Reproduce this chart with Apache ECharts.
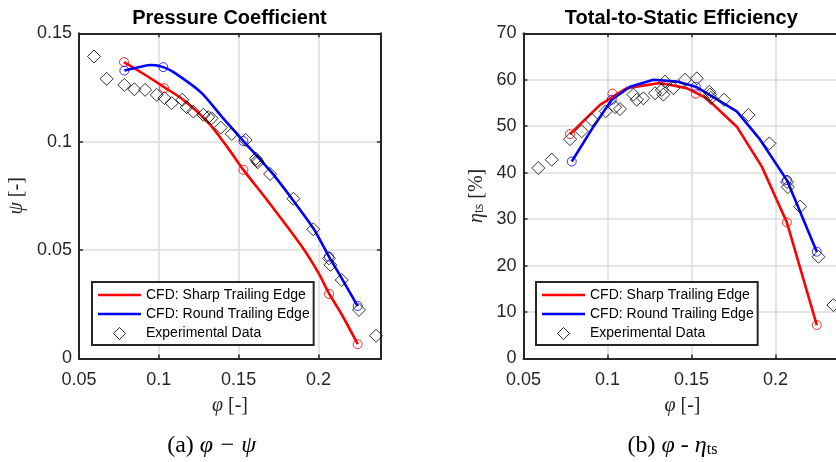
<!DOCTYPE html>
<html><head><meta charset="utf-8">
<script src="https://cdn.jsdelivr.net/npm/echarts@6/dist/echarts.min.js"></script>
<style>html,body{margin:0;padding:0;background:#fff}#c{width:836px;height:462px}</style>
</head><body><div id="c"></div>
<script>
// ---------- data ----------
const X_MIN = 0.05, X_MAX = 0.2392, X_STEP = 0.05;
const PSI_MIN = 0, PSI_MAX = 0.15, PSI_STEP = 0.05;
const ETA_MIN = 0, ETA_MAX = 70, ETA_STEP = 10;

const NAME_SHARP = 'CFD: Sharp Trailing Edge';
const NAME_ROUND = 'CFD: Round Trailing Edge';
const NAME_EXP = 'Experimental Data';

// (a) pressure coefficient psi
const psiSharpLinePhi = [0.0782, 0.0893, 0.1033, 0.1164, 0.1310, 0.1436, 0.1530, 0.1676, 0.1895, 0.2000, 0.2066, 0.2146, 0.2246];
const psiSharpLineVal = [0.1367, 0.1318, 0.1252, 0.1187, 0.1088, 0.0968, 0.0870, 0.0733, 0.0518, 0.0395, 0.0300, 0.0203, 0.0066];
const psiRoundLinePhi = [0.0784, 0.0955, 0.1028, 0.1102, 0.1269, 0.1394, 0.1530, 0.1728, 0.1968, 0.2066, 0.2146, 0.2246];
const psiRoundLineVal = [0.1328, 0.1354, 0.1344, 0.1316, 0.1224, 0.1116, 0.1003, 0.0839, 0.0601, 0.0470, 0.0370, 0.0242];
const psiSharpPtPhi = [0.0782, 0.1033, 0.1530, 0.2066, 0.2246];
const psiSharpPtVal = [0.1367, 0.1247, 0.0870, 0.0298, 0.0066];
const psiRoundPtPhi = [0.0784, 0.1028, 0.1530, 0.2066, 0.2246];
const psiRoundPtVal = [0.1328, 0.1344, 0.1003, 0.0470, 0.0242];
const psiExpPhi = [0.0594, 0.0673, 0.0784, 0.0847, 0.0914, 0.0987, 0.1035, 0.1081, 0.1147, 0.1175, 0.1216, 0.1279, 0.1310, 0.1331, 0.1388, 0.1457, 0.1544, 0.1608, 0.1615, 0.1620, 0.1697, 0.1843, 0.1968, 0.2066, 0.2075, 0.2146, 0.2254, 0.2361];
const psiExpVal = [0.1393, 0.1290, 0.1262, 0.1242, 0.1239, 0.1216, 0.1201, 0.1178, 0.1193, 0.1159, 0.1139, 0.1124, 0.1113, 0.1108, 0.1065, 0.1036, 0.1008, 0.0922, 0.0912, 0.0905, 0.0851, 0.0737, 0.0596, 0.0462, 0.0432, 0.0362, 0.0224, 0.0105];

// (b) total-to-static efficiency eta_ts [%]
const etaSharpLinePhi = [0.0777, 0.0955, 0.1114, 0.1313, 0.1471, 0.1590, 0.1769, 0.1918, 0.2007, 0.2067, 0.2245];
const etaSharpLineVal = [48.3, 54.6, 58.2, 59.3, 58.2, 56.0, 49.9, 41.3, 34.1, 29.3, 7.2];
const etaRoundLinePhi = [0.0787, 0.0916, 0.1025, 0.1134, 0.1273, 0.1412, 0.1525, 0.1590, 0.1769, 0.1908, 0.2067, 0.2245];
const etaRoundLineVal = [42.4, 49.9, 55.7, 58.5, 60.0, 59.6, 58.5, 57.1, 53.2, 47.1, 38.4, 23.0];
const etaSharpPtPhi = [0.0777, 0.1029, 0.1525, 0.2067, 0.2245];
const etaSharpPtVal = [48.3, 57.0, 57.0, 29.3, 7.2];
const etaRoundPtPhi = [0.0787, 0.1025, 0.1525, 0.2067, 0.2245];
const etaRoundPtVal = [42.4, 55.7, 58.5, 38.4, 23.0];
const etaExpPhi = [0.0588, 0.0668, 0.0777, 0.0846, 0.0906, 0.0989, 0.1045, 0.1074, 0.1154, 0.1174, 0.1213, 0.1283, 0.1323, 0.1332, 0.1342, 0.1392, 0.1461, 0.1531, 0.1605, 0.1610, 0.1615, 0.1693, 0.1838, 0.1963, 0.2068, 0.2073, 0.2146, 0.2255, 0.2344];
const etaExpVal = [41.0, 42.8, 47.2, 48.9, 51.4, 53.2, 54.1, 53.7, 56.8, 55.7, 56.0, 57.1, 57.8, 56.8, 59.6, 58.2, 60.0, 60.3, 57.4, 56.8, 56.1, 55.7, 52.4, 46.3, 38.0, 36.9, 32.7, 21.9, 11.5];

// ---------- styling ----------
const SANS = '"Liberation Sans", Arial, Helvetica, sans-serif';
const SERIF = '"Liberation Serif", "Times New Roman", serif';
const AX = '#262626';
const GRIDC = '#dedede';
const RED = '#ff0000', BLUE = '#0000ff';
const zip = (a, b) => a.map((v, i) => [v, b[i]]);
const fmt = v => String(+(+v).toFixed(4));

function nameStyle(size) {
  return {
    fontFamily: SERIF, fontSize: size, color: AX,
    rich: {
      i: { fontFamily: SERIF, fontStyle: 'italic', fontSize: size, color: AX },
      s: { fontFamily: SERIF, fontSize: 14, color: AX, verticalAlign: 'bottom', lineHeight: 14 },
      n: { fontFamily: SERIF, fontSize: size, color: AX }
    }
  };
}

function bottomX(gi) {
  return {
    type: 'value', gridIndex: gi, position: 'bottom', min: X_MIN, max: X_MAX, interval: X_STEP,
    axisLine: { show: true, onZero: false, lineStyle: { color: AX, width: 2 } },
    axisTick: { show: true, inside: true, length: 4, lineStyle: { color: AX, width: 1.5 } },
    axisLabel: { show: true, color: AX, fontSize: 18, fontFamily: SANS, margin: 13, showMaxLabel: false, formatter: fmt },
    splitLine: { show: true, lineStyle: { color: GRIDC, width: 1.6 } },
    name: '{i|φ} [-]', nameLocation: 'middle', nameGap: 37, nameMoveOverlap: false,
    nameTextStyle: nameStyle(20)
  };
}
function topX(gi) {
  return {
    type: 'value', gridIndex: gi, position: 'top', min: X_MIN, max: X_MAX, interval: X_STEP,
    axisLine: { show: true, onZero: false, lineStyle: { color: AX, width: 2 } },
    axisTick: { show: true, inside: true, length: 4, lineStyle: { color: AX, width: 1.5 } },
    axisLabel: { show: false }, splitLine: { show: false }
  };
}
function leftY(gi, mn, mx, step, name, gap) {
  return {
    type: 'value', gridIndex: gi, position: 'left', min: mn, max: mx, interval: step,
    axisLine: { show: true, onZero: false, lineStyle: { color: AX, width: 2 } },
    axisTick: { show: true, inside: true, length: 4, lineStyle: { color: AX, width: 1.5 } },
    axisLabel: { show: true, color: AX, fontSize: 18, fontFamily: SANS, margin: 7, formatter: fmt },
    splitLine: { show: true, lineStyle: { color: GRIDC, width: 1.6 } },
    name: name, nameLocation: 'middle', nameGap: gap, nameMoveOverlap: false,
    nameTextStyle: nameStyle(20)
  };
}
function rightY(gi, mn, mx, step) {
  return {
    type: 'value', gridIndex: gi, position: 'right', min: mn, max: mx, interval: step,
    axisLine: { show: true, onZero: false, lineStyle: { color: AX, width: 2 } },
    axisTick: { show: true, inside: true, length: 4, lineStyle: { color: AX, width: 1.5 } },
    axisLabel: { show: false }, splitLine: { show: false }
  };
}
function lineSeries(name, xi, yi, px, py, color, smooth) {
  return { type: 'line', name, xAxisIndex: xi, yAxisIndex: yi, data: zip(px, py), symbol: 'none', showSymbol: false,
    smooth: smooth, lineStyle: { color, width: 2.6 }, itemStyle: { color }, z: 3, silent: true };
}
function circleSeries(name, xi, yi, px, py, color) {
  return { type: 'scatter', name, xAxisIndex: xi, yAxisIndex: yi, data: zip(px, py), symbol: 'circle', symbolSize: 9,
    itemStyle: { color: 'rgba(0,0,0,0)', borderColor: color, borderWidth: 1 }, z: 4, silent: true };
}
function expSeries(xi, yi, px, py) {
  return { type: 'scatter', name: NAME_EXP, xAxisIndex: xi, yAxisIndex: yi, data: zip(px, py), symbol: 'diamond', symbolSize: 13,
    itemStyle: { color: 'rgba(0,0,0,0)', borderColor: '#000', borderWidth: 1 }, z: 5, silent: true };
}
const LINE_ICON = 'path://M0,0 L43,0 L43,2.6 L0,2.6 Z';
const DIAMOND_ICON = 'path://M0,7 L6,1 L12,7 L6,13 Z M6,0 M6,14';
function legend(left) {
  return {
    left: left, top: 282, orient: 'vertical',
    data: [
      { name: NAME_SHARP, icon: LINE_ICON, itemStyle: { color: RED, borderWidth: 0 } },
      { name: NAME_ROUND, icon: LINE_ICON, itemStyle: { color: BLUE, borderWidth: 0 } },
      { name: NAME_EXP, icon: DIAMOND_ICON, itemStyle: { color: 'rgba(0,0,0,0)', borderColor: '#000', borderWidth: 1 } }
    ],
    symbolKeepAspect: true,
    itemWidth: 43, itemHeight: 14, itemGap: 5, padding: [6, 4, 4, 6],
    borderColor: AX, borderWidth: 2, borderRadius: 0, backgroundColor: '#fff', selectedMode: false,
    textStyle: { fontFamily: SANS, fontSize: 14, color: '#000' }, z: 10
  };
}
function text(x, y, t, font, rich) {
  return { type: 'text', x: x, y: y, silent: true, z: 20,
    style: { text: t, font: font, fill: '#000', align: 'center', verticalAlign: 'middle', textAlign: 'center', textVerticalAlign: 'middle', rich: rich || {} } };
}

const chart = echarts.init(document.getElementById('c'), null, { renderer: 'canvas' });
const capRich = {
  i: { fontFamily: SERIF, fontStyle: 'italic', fontSize: 24, fill: '#000', color: '#000' },
  s: { fontFamily: SERIF, fontSize: 16, fill: '#000', color: '#000', verticalAlign: 'bottom', lineHeight: 16 }
};
chart.setOption({
  animation: false,
  backgroundColor: '#fff',
  grid: [
    { left: 79, top: 33.3, width: 302, height: 325.2, containLabel: false, outerBoundsMode: 'none' },
    { left: 523.5, top: 33.3, width: 318, height: 325.2, containLabel: false, outerBoundsMode: 'none' }
  ],
  xAxis: [bottomX(0), topX(0), bottomX(1), topX(1)],
  yAxis: [
    leftY(0, PSI_MIN, PSI_MAX, PSI_STEP, '{i|ψ} [-]', 52), rightY(0, PSI_MIN, PSI_MAX, PSI_STEP),
    leftY(1, ETA_MIN, ETA_MAX, ETA_STEP, '{i|η}{s|ts} [%]', 37), rightY(1, ETA_MIN, ETA_MAX, ETA_STEP)
  ],
  legend: [legend(92), legend(536)],
  series: [
    lineSeries(NAME_SHARP, 0, 0, psiSharpLinePhi, psiSharpLineVal, RED, 0.35),
    lineSeries(NAME_ROUND, 0, 0, psiRoundLinePhi, psiRoundLineVal, BLUE, 0.2),
    circleSeries('sharp-pts-a', 0, 0, psiSharpPtPhi, psiSharpPtVal, RED),
    circleSeries('round-pts-a', 0, 0, psiRoundPtPhi, psiRoundPtVal, BLUE),
    expSeries(0, 0, psiExpPhi, psiExpVal),
    lineSeries(NAME_SHARP, 2, 2, etaSharpLinePhi, etaSharpLineVal, RED, false),
    lineSeries(NAME_ROUND, 2, 2, etaRoundLinePhi, etaRoundLineVal, BLUE, false),
    circleSeries('sharp-pts-b', 2, 2, etaSharpPtPhi, etaSharpPtVal, RED),
    circleSeries('round-pts-b', 2, 2, etaRoundPtPhi, etaRoundPtVal, BLUE),
    expSeries(2, 2, etaExpPhi, etaExpVal)
  ],
  graphic: { elements: [
    text(229.5, 18, 'Pressure Coefficient', 'bold 20px ' + SANS),
    text(681.3, 18, 'Total-to-Static Efficiency', 'bold 20px ' + SANS),
    text(211.7, 446, '(a) {i|φ − ψ}', '24px ' + SERIF, capRich),
    text(672.5, 446, '(b) {i|φ} - {i|η}{s|ts}', '24px ' + SERIF, capRich)
  ] }
});
</script></body></html>
